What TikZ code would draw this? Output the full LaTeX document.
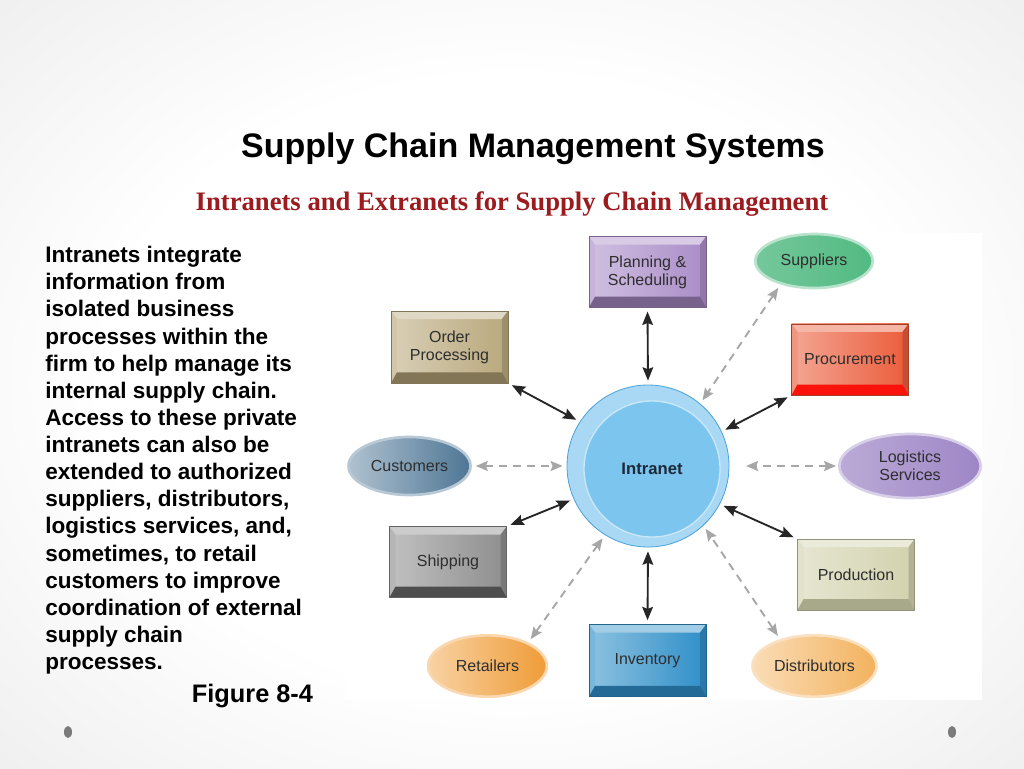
\documentclass[tikz,border=0pt]{standalone}
\usepackage{fontspec}
\setmainfont{Liberation Sans}
\newfontfamily\subfont{Liberation Serif}
\usetikzlibrary{arrows.meta,shapes.geometric}
\definecolor{subred}{HTML}{9B1B1E}
\definecolor{labelgray}{HTML}{2E2E2E}
\definecolor{dashgray}{HTML}{A6A6A6}
\definecolor{vigA}{HTML}{E3E3E3}
\definecolor{vigB}{HTML}{C9C9C9}
\definecolor{planc}{HTML}{AA8CC8}
\definecolor{orderc}{HTML}{B9A87C}
\definecolor{procc}{HTML}{EB5C3A}
\definecolor{shipc}{HTML}{8E8E8E}
\definecolor{prodc}{HTML}{D2D2AE}
\definecolor{invc}{HTML}{2F8FC8}
\definecolor{suppc}{HTML}{52BA82}
\definecolor{custc}{HTML}{4E7695}
\definecolor{logc}{HTML}{9E86C6}
\definecolor{retc}{HTML}{EF9C36}
\definecolor{distc}{HTML}{F3B25E}
\definecolor{ringc}{HTML}{A8D8F3}
\definecolor{corec}{HTML}{7CC5EE}
\definecolor{rimc}{HTML}{4AA2D6}
\definecolor{navy}{HTML}{1B2A3A}
\pgfdeclareradialshading{vignette}{\pgfpoint{0bp}{0bp}}{color(0bp)=(white); color(20bp)=(white); color(48bp)=(vigA); color(71bp)=(vigB)}

\begin{document}
\begin{tikzpicture}[x=0.75pt,y=-0.75pt,
  bevel/.style 2 args={rectangle,inner sep=0pt,minimum width=87.75pt,minimum height=53pt,
    align=center,font=\fontsize{12}{13.5}\selectfont,text=labelgray,
    draw=#1!70!black,line width=0.4pt,left color=#1!55!white,right color=#1,
    path picture={
      \fill[#1!45!white] (path picture bounding box.north west) -- (path picture bounding box.north east)
        -- ([shift={(-4.5pt,-6pt)}]path picture bounding box.north east)
        -- ([shift={(4.5pt,-6pt)}]path picture bounding box.north west) -- cycle;
      \fill[#1!65!white] (path picture bounding box.north west) -- ([shift={(4.5pt,-6pt)}]path picture bounding box.north west)
        -- ([shift={(4.5pt,8pt)}]path picture bounding box.south west) -- (path picture bounding box.south west) -- cycle;
      \fill[#1!85!black] (path picture bounding box.north east) -- ([shift={(-4.5pt,-6pt)}]path picture bounding box.north east)
        -- ([shift={(-4.5pt,8pt)}]path picture bounding box.south east) -- (path picture bounding box.south east) -- cycle;
      \fill[#2] (path picture bounding box.south west) -- (path picture bounding box.south east)
        -- ([shift={(-4.5pt,8pt)}]path picture bounding box.south east)
        -- ([shift={(4.5pt,8pt)}]path picture bounding box.south west) -- cycle;
    }},
  pod/.style={ellipse,inner sep=0pt,draw=#1!40!white,line width=2pt,
    left color=#1!45!white,right color=#1,align=center,
    font=\fontsize{12}{13.5}\selectfont,text=labelgray},
  link/.style={{Stealth[length=10pt,width=8pt,inset=1.5pt]}-{Stealth[length=10pt,width=8pt,inset=1.5pt]},
    line width=1.4pt,draw=black!85,shorten <=3pt,shorten >=3pt},
  ext/.style={{Stealth[length=9pt,width=7.5pt,inset=1.5pt]}-{Stealth[length=9pt,width=7.5pt,inset=1.5pt]},
    line width=1.4pt,draw=dashgray,dash pattern=on 6pt off 4.5pt,shorten <=3pt,shorten >=3pt}
]
\useasboundingbox (0,0) rectangle (1024,768);
\shade[shading=vignette] (0,0) rectangle (1024,768);
\fill[white] (345,233) rectangle (982,700);

\node[font=\fontsize{25.5}{30}\selectfont\bfseries] (title) at (533,149) {Supply Chain Management Systems};
\node[font=\subfont\fontsize{20}{24}\selectfont\bfseries,text=subred] (subtitle) at (512,204)
  {Intranets and Extranets for Supply Chain Management};
\node[anchor=north west,inner sep=0pt,align=left,font=\fontsize{16.9}{20.35}\selectfont\bfseries] (summary) at (45,246)
  {Intranets integrate\\information from\\isolated business\\processes within the\\firm to help manage its\\internal supply chain.\\
   Access to these private\\intranets can also be\\extended to authorized\\suppliers, distributors,\\logistics services, and,\\
   sometimes, to retail\\customers to improve\\coordination of external\\supply chain\\processes.};
\node[font=\fontsize{19}{22}\selectfont\bfseries] (figure) at (252.5,696) {Figure 8-4};

\node[circle,minimum size=121.5pt,fill=ringc,draw=rimc,line width=0.6pt] (intranet) at (648,466) {};
\node[circle,minimum size=102pt,fill=corec,draw=corec!40!white,line width=1pt,
      font=\fontsize{12.5}{14}\selectfont\bfseries,text=navy] (core) at (652,469) {Intranet};

\node[bevel={planc}{planc!70!black}] (plan) at (647.5,272) {Planning \&\\Scheduling};
\node[bevel={orderc}{orderc!70!black},minimum height=54pt] (order) at (449.5,347) {Order\\Processing};
\node[bevel={procc}{red!80!procc},minimum height=53.5pt] (proc) at (850,359.5) {Procurement};
\node[bevel={shipc}{shipc!55!black}] (ship) at (448,562) {Shipping};
\node[bevel={prodc}{prodc!80!black}] (prod) at (856,574.5) {Production};
\node[bevel={invc}{invc!75!black},minimum height=54pt] (inv) at (647.5,660.5) {Inventory};

\node[pod=suppc,left color=suppc!80!white,minimum width=88pt,minimum height=40.5pt] (supp) at (814,261) {Suppliers};
\node[pod=custc,minimum width=91.5pt,minimum height=43.5pt] (cust) at (409.5,466) {Customers};
\node[pod=logc,left color=logc!70!white,minimum width=106pt,minimum height=48pt] (logist) at (910,466) {Logistics\\Services};
\node[pod=retc,minimum width=89pt,minimum height=46pt] (ret) at (487.5,666) {Retailers};
\node[pod=distc,minimum width=93pt,minimum height=46pt] (dist) at (814.5,666) {Distributors};

\draw[link] (plan.south) -- (intranet.north);
\draw[link] (inv.north) -- (intranet.south);
\draw[link] (order.south east) -- (intranet.147);
\draw[link] (proc.south west) -- (intranet.25);
\draw[link] (ship.north east) -- (intranet.204);
\draw[link] (prod.north west) -- (intranet.332);

\draw[ext] (supp.215) -- (intranet.50);
\draw[ext] (cust.east) -- (intranet.west);
\draw[ext,shorten <=1.5pt,shorten >=12.5pt] (logist.west) -- (intranet.east);
\draw[ext] (ret.30) -- (intranet.238);
\draw[ext] (dist.142) -- (intranet.313);

\fill[black!52] (68,732) ellipse [x radius=3pt,y radius=4.5pt];
\fill[black!52] (952,732) ellipse [x radius=3pt,y radius=4.5pt];
\end{tikzpicture}
\end{document}
